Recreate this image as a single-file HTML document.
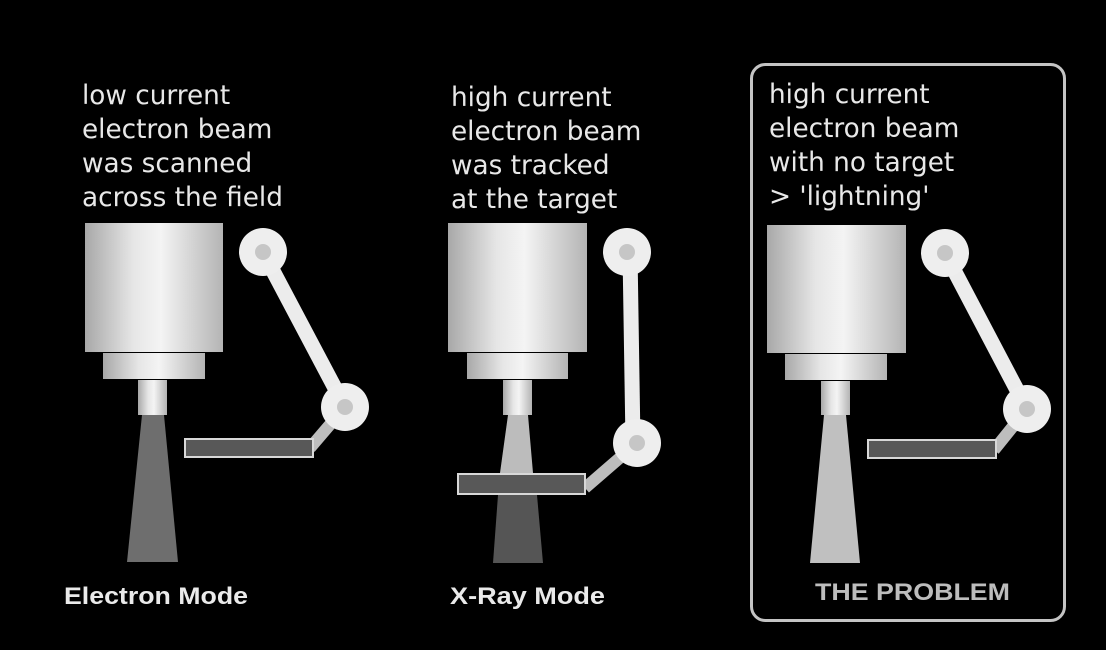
<!DOCTYPE html>
<html><head><meta charset="utf-8"><style>
html,body{margin:0;padding:0;background:#000;}
svg{display:block;}
.cap{font-family:"DejaVu Sans","Liberation Sans",sans-serif;font-size:26.3px;fill:#e8e8e8;}
.lbl{font-family:"Liberation Sans",sans-serif;font-weight:bold;font-size:24px;}
</style></head><body>
<svg width="1106" height="650" viewBox="0 0 1106 650">
<defs>
<linearGradient id="metal" x1="0" x2="1" y1="0" y2="0">
<stop offset="0" stop-color="#a8a8a8"/><stop offset="0.35" stop-color="#e6e6e6"/><stop offset="0.55" stop-color="#f4f4f4"/><stop offset="1" stop-color="#b4b4b4"/>
</linearGradient>
</defs>
<rect width="1106" height="650" fill="#000"/>

<g>
<text class="cap"><tspan x="82" y="104">low current</tspan><tspan x="82" y="138">electron beam</tspan><tspan x="82" y="172">was scanned</tspan><tspan x="82" y="206">across the field</tspan></text>
<polygon points="142,415 164,415 178,562 127,562" fill="#6e6e6e"/>
<rect x="85" y="223" width="138" height="129" fill="url(#metal)"/>
<rect x="103" y="353" width="102" height="26" fill="url(#metal)"/>
<rect x="138" y="380" width="29" height="35" fill="url(#metal)"/>
<g>
<line x1="263" y1="252" x2="345" y2="407" stroke="#ececec" stroke-width="15"/>
<line x1="345" y1="407" x2="310" y2="448" stroke="#bdbdbd" stroke-width="12"/>
<circle cx="263" cy="252" r="24" fill="#eeeeee"/><circle cx="263" cy="252" r="8" fill="#c6c6c6"/>
<circle cx="345" cy="407" r="24" fill="#eeeeee"/><circle cx="345" cy="407" r="8" fill="#c6c6c6"/>
</g>
<rect x="185" y="439" width="128" height="18" fill="#585858" stroke="#d8d8d8" stroke-width="2"/>
<text class="lbl" x="64" y="604" fill="#eaeaea" textLength="184" lengthAdjust="spacingAndGlyphs">Electron Mode</text>
</g>

<g>
<text class="cap"><tspan x="451" y="106">high current</tspan><tspan x="451" y="140">electron beam</tspan><tspan x="451" y="174">was tracked</tspan><tspan x="451" y="208">at the target</tspan></text>
<polygon points="508,415 528,415 533,473 500,473" fill="#bcbcbc"/>
<polygon points="498,495 537,495 543,563 493,563" fill="#555555"/>
<rect x="448" y="223" width="139" height="129" fill="url(#metal)"/>
<rect x="467" y="353" width="101" height="26" fill="url(#metal)"/>
<rect x="503" y="380" width="29" height="35" fill="url(#metal)"/>
<g>
<line x1="630" y1="252" x2="633" y2="443" stroke="#ececec" stroke-width="15"/>
<line x1="637" y1="443" x2="585" y2="488" stroke="#bdbdbd" stroke-width="12"/>
<circle cx="627" cy="252" r="24" fill="#eeeeee"/><circle cx="627" cy="252" r="8" fill="#c6c6c6"/>
<circle cx="637" cy="443" r="24" fill="#eeeeee"/><circle cx="637" cy="443" r="8" fill="#c6c6c6"/>
</g>
<rect x="458" y="474" width="127" height="20" fill="#585858" stroke="#d8d8d8" stroke-width="2"/>
<text class="lbl" x="450" y="604" fill="#eaeaea" textLength="155" lengthAdjust="spacingAndGlyphs">X-Ray Mode</text>
</g>

<g>
<rect x="751.5" y="64.5" width="313" height="556" rx="14" fill="none" stroke="#c4c4c4" stroke-width="3"/>
<text class="cap"><tspan x="769" y="103">high current</tspan><tspan x="769" y="137">electron beam</tspan><tspan x="769" y="171">with no target</tspan><tspan x="769" y="205">&gt; 'lightning'</tspan></text>
<polygon points="824,415 846,415 860,563 810,563" fill="#c0c0c0"/>
<rect x="767" y="225" width="139" height="128" fill="url(#metal)"/>
<rect x="785" y="354" width="102" height="26" fill="url(#metal)"/>
<rect x="821" y="381" width="29" height="34" fill="url(#metal)"/>
<g>
<line x1="945" y1="253" x2="1027" y2="409" stroke="#ececec" stroke-width="15"/>
<line x1="1027" y1="409" x2="994" y2="450" stroke="#bdbdbd" stroke-width="12"/>
<circle cx="945" cy="253" r="24" fill="#eeeeee"/><circle cx="945" cy="253" r="8" fill="#c6c6c6"/>
<circle cx="1027" cy="409" r="24" fill="#eeeeee"/><circle cx="1027" cy="409" r="8" fill="#c6c6c6"/>
</g>
<rect x="868" y="440" width="128" height="18" fill="#585858" stroke="#d8d8d8" stroke-width="2"/>
<text class="lbl" x="815" y="600" fill="#bdbdbd" textLength="195" lengthAdjust="spacingAndGlyphs">THE PROBLEM</text>
</g>
</svg>
</body></html>
